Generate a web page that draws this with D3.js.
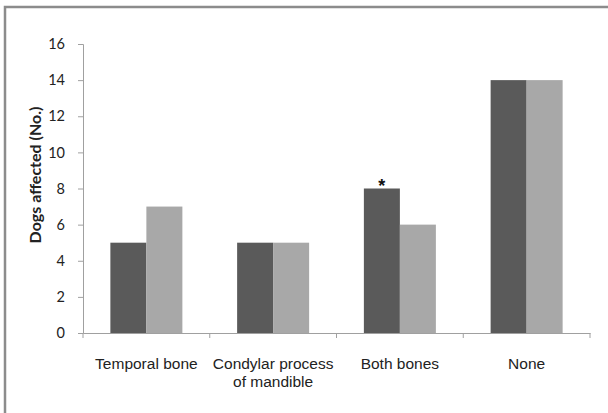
<!DOCTYPE html>
<html><head><meta charset="utf-8">
<script src="https://cdn.jsdelivr.net/npm/d3@7/dist/d3.min.js"></script>
<style>body{margin:0;background:#fff}</style>
</head><body>
<svg id="c" width="608" height="413"></svg>
<script>
const categories = [["Temporal bone"], ["Condylar process", "of mandible"], ["Both bones"], ["None"]];
const seriesA = [5, 5, 8, 14];
const seriesB = [7, 5, 6, 14];
const yTicks = [0, 2, 4, 6, 8, 10, 12, 14, 16];
const marks = ["", "", "*", ""];

(function () {
const svg = d3.select("#c");
svg.append("rect").attr("x", 0).attr("y", 0).attr("width", 608).attr("height", 413).attr("fill", "#fff");
svg.append("path").attr("d", "M5,420 V7 H620").attr("fill", "none").attr("stroke", "#8c8c8c").attr("stroke-width", 2.5);

const mL = 83, mR = 590, mT = 44, mB = 333;
const x = d3.scaleBand().domain(d3.range(categories.length)).range([mL, mR]).paddingInner(0).paddingOuter(0);
const y = d3.scaleLinear().domain([0, 16]).range([mB, mT]);
const barW = 36;

const ya = svg.append("g").attr("transform", `translate(${mL},0)`)
  .call(d3.axisLeft(y).tickValues(yTicks).tickSize(5).tickPadding(13));
ya.select(".domain").attr("stroke", "#a0a0a0");
ya.selectAll(".tick line").attr("stroke", "#a0a0a0");
ya.selectAll(".tick text").attr("font-family", "Lato, 'Open Sans', sans-serif").attr("font-size", 14.5).attr("fill", "#222");

const g = svg.append("g");
categories.forEach((c, i) => {
  const cx = x(i) + x.bandwidth() / 2;
  g.append("rect").attr("x", cx - barW).attr("y", y(seriesA[i])).attr("width", barW).attr("height", y(0) - y(seriesA[i])).attr("fill", "#5a5a5a");
  g.append("rect").attr("x", cx).attr("y", y(seriesB[i])).attr("width", barW).attr("height", y(0) - y(seriesB[i])).attr("fill", "#a8a8a8");
  if (marks[i]) {
    g.append("text").attr("x", cx - barW / 2).attr("y", y(seriesA[i]) + 3).attr("text-anchor", "middle")
      .attr("font-family", "Liberation Sans, Arial, sans-serif").attr("font-size", 18).attr("font-weight", "bold").attr("fill", "#111").text(marks[i]);
  }
});

const xa = svg.append("g").attr("transform", `translate(0,${mB})`)
  .call(d3.axisBottom(x).tickValues([]).tickSizeOuter(0));
xa.select(".domain").attr("stroke", "#a0a0a0");
[0, 1, 2, 3, 4].forEach(k => {
  const px = mL + k * x.bandwidth();
  svg.append("line").attr("x1", px).attr("x2", px).attr("y1", mB).attr("y2", mB + 5).attr("stroke", "#a0a0a0");
});
categories.forEach((lines, i) => {
  const t = svg.append("text").attr("x", x(i) + x.bandwidth() / 2).attr("y", 369).attr("text-anchor", "middle")
    .attr("font-family", "Liberation Sans, Arial, sans-serif").attr("font-size", 15.5).attr("fill", "#222");
  lines.forEach((l, j) => t.append("tspan").attr("x", x(i) + x.bandwidth() / 2).attr("dy", j ? 18 : 0).text(l));
});

svg.append("text").attr("transform", "translate(41,175) rotate(-90)").attr("text-anchor", "middle")
  .attr("font-family", "Lato, 'Open Sans', sans-serif").attr("font-weight", "bold").attr("font-size", 16).attr("fill", "#222")
  .text("Dogs affected (No.)");
})();
</script>
</body></html>
